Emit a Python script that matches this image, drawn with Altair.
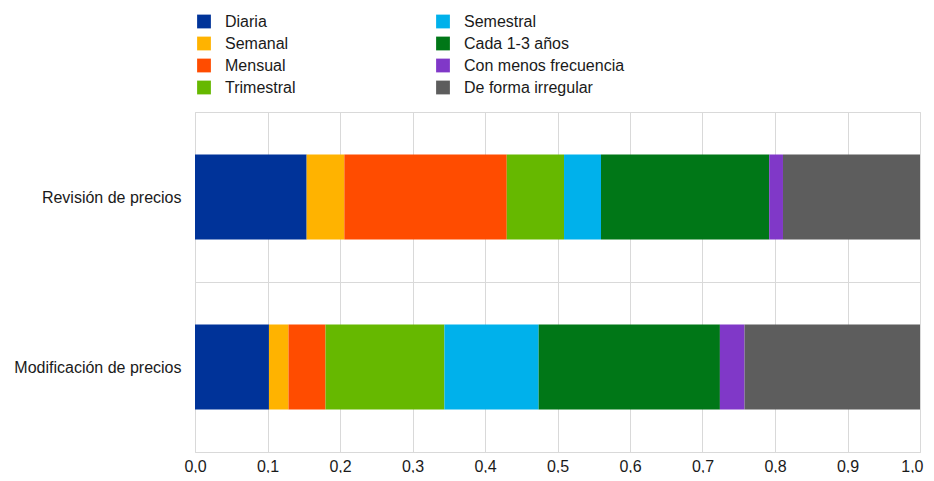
import altair as alt
import pandas as pd

categories = ["Revisión de precios", "Modificación de precios"]
frequencies = ["Diaria", "Semanal", "Mensual", "Trimestral", "Semestral",
               "Cada 1-3 años", "Con menos frecuencia", "De forma irregular"]
colors = ["#003399", "#FFB300", "#FF4C00", "#66B800", "#00B1EB",
          "#007717", "#8038C8", "#5D5D5D"]
revision = [0.154, 0.052, 0.224, 0.079, 0.051, 0.232, 0.019, 0.189]
modificacion = [0.102, 0.027, 0.051, 0.164, 0.130, 0.250, 0.034, 0.242]
x_ticks = [0.0, 0.1, 0.2, 0.3, 0.4, 0.5, 0.6, 0.7, 0.8, 0.9, 1.0]

rows = []
for cat, vals in zip(categories, [revision, modificacion]):
    for i, (f, v) in enumerate(zip(frequencies, vals)):
        rows.append({"cat": cat, "freq": f, "val": v, "idx": i})
df = pd.DataFrame(rows)

font = "Liberation Sans"
txt = "#1a1a1a"

chart = alt.Chart(df).mark_bar(height={"band": 0.5}).encode(
    y=alt.Y("cat:N", sort=categories, title=None,
            scale=alt.Scale(paddingInner=0, paddingOuter=0),
            axis=alt.Axis(ticks=False, domain=False, grid=True, tickBand="extent",
                          gridColor="#d9d9d9", labelFontSize=16, labelColor=txt,
                          labelFont=font, labelPadding=14)),
    x=alt.X("val:Q", stack="zero", title=None,
            scale=alt.Scale(domain=[0, 1], nice=False),
            axis=alt.Axis(values=x_ticks, ticks=False, domain=False, grid=True,
                          gridColor="#d9d9d9", labelFontSize=16, labelColor=txt,
                          labelFont=font, labelPadding=6,
                          labelAlign=alt.condition("datum.value >= 1", alt.value("right"), alt.value("center")),
                          labelOffset=alt.condition("datum.value >= 1", alt.value(3), alt.value(0)),
                          labelExpr="replace(format(datum.value, '.1f'), '.', ',')")),
    color=alt.Color("freq:N", title=None,
                    scale=alt.Scale(domain=frequencies, range=colors),
                    legend=alt.Legend(orient="none", legendX=1, legendY=-98.5,
                                      columns=2, columnPadding=139, rowPadding=6,
                                      symbolType="square", symbolSize=190,
                                      symbolStrokeWidth=0, symbolOpacity=1,
                                      labelFontSize=16, labelFont=font,
                                      labelColor=txt, labelOffset=13,
                                      padding=0, labelLimit=300)),
    order=alt.Order("idx:Q", sort="ascending"),
).properties(
    width=725, height=340,
    autosize=alt.AutoSizeParams(type="none"),
    padding={"left": 187, "top": 104, "right": 6, "bottom": 21},
).configure_view(stroke="#d9d9d9")

chart.save("out.html", embed_options={"renderer": "svg", "actions": False})
